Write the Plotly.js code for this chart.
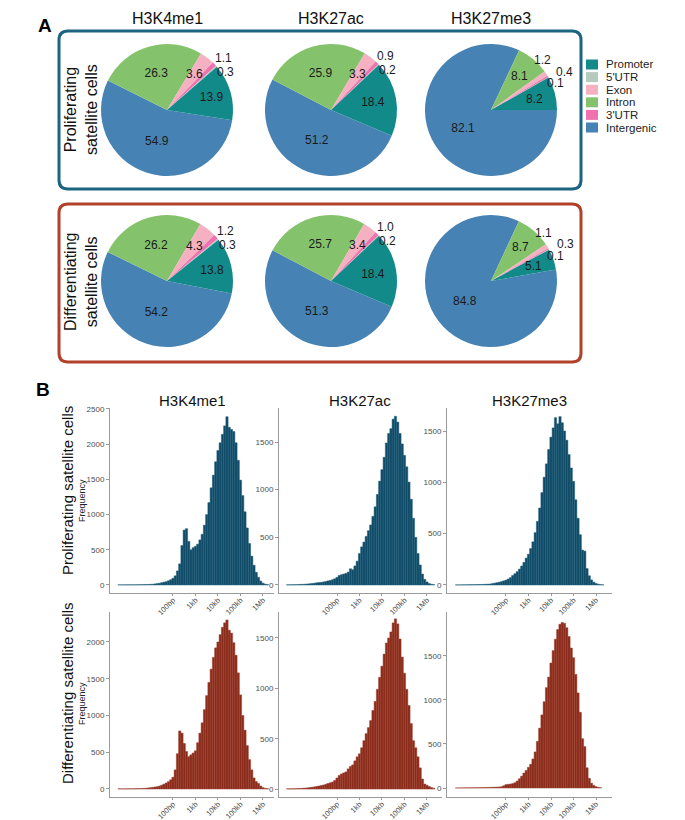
<!DOCTYPE html>
<html>
<head>
<meta charset="utf-8">
<script src="https://cdn.plot.ly/plotly-3.0.1.min.js"></script>
<style>html,body{margin:0;padding:0;background:#fff}</style>
</head>
<body>
<div id="chart" style="width:685px;height:820px"></div>
<script>
// genomic regions, in the order the slices run counterclockwise from the promoter
const regions = ["Promoter", "5'UTR", "3'UTR", "Exon", "Intron", "Intergenic"];
const legendRegions = ["Promoter", "5'UTR", "Exon", "Intron", "3'UTR", "Intergenic"];
const regionColors = {
  "Promoter": "#138a8a",
  "5'UTR": "#b5cbc0",
  "Exon": "#f5b1c1",
  "Intron": "#84c36c",
  "3'UTR": "#ef72ae",
  "Intergenic": "#4683b4"
};
const marks = ["H3K4me1", "H3K27ac", "H3K27me3"];

// percentages per mark (same order as regions)
const prolifPct = [
  [13.9, 0.3, 1.1, 3.6, 26.3, 54.9],
  [18.4, 0.2, 0.9, 3.3, 25.9, 51.2],
  [8.2, 0.1, 0.4, 1.2, 8.1, 82.1]
];
const diffPct = [
  [13.8, 0.3, 1.2, 4.3, 26.2, 54.2],
  [18.4, 0.2, 1.0, 3.4, 25.7, 51.3],
  [5.1, 0.1, 0.3, 1.1, 8.7, 84.8]
];

// peak width histograms, log10(bp) bins of 0.1
const binWidth = 0.1;
const tickVals = [2, 3, 4, 5, 6];
const tickText = ["100bp", "1kb", "10kb", "100kb", "1Mb"];

const prolifK4me1Start = -0.4;
const prolifK4me1 = [2,2,2,2,3,3,3,3,4,4,5,5,6,7,
  9,11,15,20,25,32,40,47,60,75,
  95,130,200,300,560,780,800,620,500,530,
  550,580,640,720,850,1000,1170,1380,1560,1750,
  1910,2020,2140,2260,2390,2240,2210,2180,2020,1770,
  1490,1270,1040,810,590,410,280,180,110,55,
  25,12,6];
const prolifK27acStart = -0.2;
const prolifK27ac = [2,2,3,3,4,5,6,7,9,11,13,16,
  19,23,26,28,32,37,43,48,55,65,
  80,100,108,115,122,135,170,160,200,250,
  330,400,450,510,570,630,720,820,950,1090,
  1210,1340,1490,1590,1640,1740,1770,1710,1590,1480,
  1360,1240,1080,900,700,500,330,210,115,60,
  32,15,8,4];
const prolifK27me3Start = -0.2;
const prolifK27me3 = [1,1,1,2,2,2,3,3,3,4,4,5,6,7,8,10,
  14,18,22,27,33,40,
  47,58,72,92,110,130,155,185,220,262,
  300,355,420,510,620,750,900,1050,1180,1320,
  1440,1530,1630,1570,1640,1580,1500,1410,1270,1140,
  1010,830,650,490,340,330,160,90,50,28,
  15,8,4,2];

const diffK4me1Start = -0.4;
const diffK4me1 = [2,2,2,2,3,3,3,4,4,5,6,8,10,14,
  18,22,27,32,40,52,66,82,100,125,
  160,260,480,790,760,620,510,440,465,490,
  520,630,760,900,1080,1270,1450,1630,1790,1920,
  2000,2100,2200,2260,2300,2160,2120,1990,1820,1580,
  1280,1000,800,590,400,260,150,100,75,40,
  18,8,4];
const diffK27acStart = -0.2;
const diffK27ac = [2,2,3,3,4,5,6,8,10,12,15,18,
  22,26,30,35,40,47,55,62,70,85,
  110,135,150,160,170,200,225,240,280,320,
  350,410,480,550,610,680,780,870,990,1110,
  1220,1340,1450,1500,1560,1650,1690,1640,1490,1310,
  1150,990,830,650,480,410,320,210,100,50,
  38,25,15,8];
const diffK27me3Start = -0.2;
const diffK27me3 = [1,1,1,2,2,2,2,3,3,3,4,4,5,5,6,7,8,9,
  10,11,15,25,
  38,42,45,50,60,80,105,135,170,200,
  235,270,330,410,530,680,830,980,1140,1260,
  1420,1560,1690,1800,1860,1880,1870,1820,1720,1590,
  1480,1290,1080,860,560,470,230,110,55,30,
  15,8,3];

const W = 685, H = 820;
const fx = px => px / W;
const fy = py => 1 - py / H;
const font = "Liberation Sans, Arial, sans-serif";
const labelFont = { family: font, size: 12, color: "#1a1a1a" };

const data = [];
const annotations = [];
const shapes = [];

// ---- panel A: pies ----
const pieX = [167, 331, 491];
const pieY = [110, 281];
const pieR = 66;
// angle (deg, counterclockwise from 3 o'clock) where the promoter slice begins
const pieStart = [[-9, -23, 0], [-11, -23, 10]];

function addLabel(txt, px, py) {
  annotations.push({
    text: txt, xref: "paper", yref: "paper", x: fx(px), y: fy(py),
    xanchor: "center", yanchor: "middle", showarrow: false, font: labelFont
  });
}

[prolifPct, diffPct].forEach((rows, r) => {
  rows.forEach((pct, c) => {
    const cx = pieX[c], cy = pieY[r];
    // plotted clockwise, starting with the intergenic slice
    const labs = regions.slice().reverse();
    const vals = pct.slice().reverse();
    data.push({
      type: "pie",
      labels: labs,
      values: vals,
      sort: false,
      direction: "clockwise",
      rotation: 90 - pieStart[r][c],
      marker: { colors: labs.map(l => regionColors[l]), line: { width: 0 } },
      text: vals.map(v => v >= 10 ? v.toFixed(1) : ""),
      textinfo: "text",
      textposition: "inside",
      insidetextorientation: "horizontal",
      textfont: labelFont,
      showlegend: false,
      hoverinfo: "label+value",
      domain: {
        x: [fx(cx - pieR), fx(cx + pieR)],
        y: [fy(cy + pieR), fy(cy - pieR)]
      }
    });

    // labels of the narrower slices, set from their mid angle
    const tot = pct.reduce((a, b) => a + b, 0);
    let cum = 0;
    const mids = pct.map(v => { const m = pieStart[r][c] + (cum + v / 2) / tot * 360; cum += v; return m * Math.PI / 180; });
    const outer = [];
    pct.forEach((v, i) => {
      if (v >= 10) return;
      if (v >= 2) {
        addLabel(v.toFixed(1), cx + pieR * 0.68 * Math.cos(mids[i]), cy - pieR * 0.68 * Math.sin(mids[i]));
      } else {
        outer.push(i);
      }
    });
    // thin slices: fanned out just past the rim, top one first
    outer.sort((a, b) => mids[b] - mids[a]);
    const ro = pieR * 1.12;
    const ys = outer.map(i => -ro * Math.sin(mids[i]));
    const mean = ys.reduce((a, b) => a + b, 0) / Math.max(ys.length, 1);
    const three = outer.length > 2;
    const gap = three ? 11.5 : 14;
    const nudgeX = three ? [-10, 10, 0] : [3, 3];
    outer.forEach((i, k) => {
      const dy = mean + (k - (outer.length - 1) / 2) * gap + (three ? 0 : 5);
      addLabel(pct[i].toFixed(1), cx + ro * Math.cos(mids[i]) + nudgeX[k], cy + dy);
    });
  });
});

function roundBox(x0, y0, x1, y1, rad, color) {
  const rx = rad / W, ry = rad / H;
  const a = fx(x0), b = fx(x1), t = fy(y0), u = fy(y1);
  return {
    type: "path", xref: "paper", yref: "paper",
    path: `M ${a + rx},${t} L ${b - rx},${t} Q ${b},${t} ${b},${t - ry} L ${b},${u + ry} Q ${b},${u} ${b - rx},${u} ` +
          `L ${a + rx},${u} Q ${a},${u} ${a},${u + ry} L ${a},${t - ry} Q ${a},${t} ${a + rx},${t} Z`,
    line: { color: color, width: 3 }
  };
}
shapes.push(roundBox(59, 31, 581, 189, 9, "#1c6481"));
shapes.push(roundBox(59, 204, 581, 362, 9, "#b2412a"));

// legend built from the region list
legendRegions.forEach((reg, i) => {
  const cy = 64.5 + i * 12.6;
  shapes.push({
    type: "rect", xref: "paper", yref: "paper",
    x0: fx(586), x1: fx(598), y0: fy(cy + 5), y1: fy(cy - 5),
    fillcolor: regionColors[reg], line: { width: 0 }
  });
  annotations.push({
    text: reg, xref: "paper", yref: "paper", x: fx(604), y: fy(cy),
    xanchor: "left", yanchor: "middle", showarrow: false,
    font: { family: font, size: 11.5, color: "#222" }
  });
});

marks.forEach((m, c) => {
  annotations.push({
    text: m, xref: "paper", yref: "paper", x: fx(pieX[c]), y: fy(18),
    xanchor: "center", yanchor: "middle", showarrow: false,
    font: { family: font, size: 16, color: "#111" }
  });
});
annotations.push({
  text: "Proliferating<br>satellite cells", xref: "paper", yref: "paper",
  x: fx(81), y: fy(110), textangle: -90, showarrow: false,
  xanchor: "center", yanchor: "middle",
  font: { family: font, size: 16, color: "#111" }
});
annotations.push({
  text: "Differentiating<br>satellite cells", xref: "paper", yref: "paper",
  x: fx(81), y: fy(282), textangle: -90, showarrow: false,
  xanchor: "center", yanchor: "middle",
  font: { family: font, size: 16, color: "#111" }
});
annotations.push({
  text: "<b>A</b>", xref: "paper", yref: "paper", x: fx(36), y: fy(13),
  showarrow: false, font: { family: font, size: 19, color: "#000" }
});
annotations.push({
  text: "<b>B</b>", xref: "paper", yref: "paper", x: fx(34), y: fy(389),
  showarrow: false, font: { family: font, size: 19, color: "#000" }
});

// ---- panel B: histograms ----
const hists = [
  [prolifK4me1Start, prolifK4me1], [prolifK27acStart, prolifK27ac], [prolifK27me3Start, prolifK27me3],
  [diffK4me1Start, diffK4me1], [diffK27acStart, diffK27ac], [diffK27me3Start, diffK27me3]
];
const colX = [[110, 274], [279, 442], [447, 612]];
const rowY = [[408, 593], [612, 797]];
const xRanges = [[-0.8, 6.49], [-0.58, 6.67], [-0.62, 6.71]];
const yRanges = [[-114, 2514], [-84, 1857], [-78, 1724], [-109, 2408], [-79, 1758], [-102, 1999]];
const barColors = ["#0f4a66", "#8b2b1b"];
const barEdges = ["#23607c", "#9d3f2c"];

const layout = {
  width: W, height: H,
  margin: { l: 0, r: 0, t: 0, b: 0 },
  paper_bgcolor: "#fff", plot_bgcolor: "#fff",
  font: { family: font },
  showlegend: false,
  bargap: 0,
  annotations: annotations,
  shapes: shapes
};

hists.forEach(([start, counts], k) => {
  const r = Math.floor(k / 3), c = k % 3;
  const n = k + 1;
  const sfx = n === 1 ? "" : String(n);
  const xs = counts.map((_, i) => +(start + i * binWidth).toFixed(2));
  data.push({
    type: "bar",
    x: xs, y: counts, width: binWidth,
    xaxis: "x" + sfx, yaxis: "y" + sfx,
    marker: { color: barColors[r], line: { color: barEdges[r], width: 0.5 } },
    hoverinfo: "y"
  });
  const axStyle = {
    showgrid: false, zeroline: false, showline: true,
    linecolor: "#9a9a9a", linewidth: 1,
    ticks: "outside", ticklen: 3, tickcolor: "#9a9a9a",
    tickfont: { family: font, size: 8, color: "#4d4d4d" }
  };
  layout["xaxis" + sfx] = Object.assign({}, axStyle, {
    domain: [fx(colX[c][0]), fx(colX[c][1])],
    range: xRanges[c],
    anchor: "y" + sfx,
    tickmode: "array", tickvals: tickVals, ticktext: tickText, tickangle: -45,
    ticklen: 2,
    tickfont: { family: font, size: 7.5, color: "#4d4d4d" },
    ticklabelstandoff: -3
  });
  layout["yaxis" + sfx] = Object.assign({}, axStyle, {
    domain: [fy(rowY[r][1]), fy(rowY[r][0])],
    range: yRanges[k],
    anchor: "x" + sfx,
    dtick: 500
  });
});

const colCenters = [192, 360, 529];
marks.forEach((m, c) => {
  annotations.push({
    text: m, xref: "paper", yref: "paper", x: fx(colCenters[c]), y: fy(400),
    xanchor: "center", yanchor: "middle", showarrow: false,
    font: { family: font, size: 15, color: "#111" }
  });
});
[["Proliferating satellite cells", 491, 501], ["Differentiating satellite cells", 694, 704]].forEach(([txt, yc, yf]) => {
  annotations.push({
    text: txt, xref: "paper", yref: "paper", x: fx(67), y: fy(yc), textangle: -90,
    xanchor: "center", yanchor: "middle", showarrow: false,
    font: { family: font, size: 15, color: "#111" }
  });
  annotations.push({
    text: "Frequency", xref: "paper", yref: "paper", x: fx(82), y: fy(yf), textangle: -90,
    xanchor: "center", yanchor: "middle", showarrow: false,
    font: { family: font, size: 9, color: "#222" }
  });
});

Plotly.newPlot("chart", data, layout, { displayModeBar: false, staticPlot: true });
</script>
</body>
</html>
